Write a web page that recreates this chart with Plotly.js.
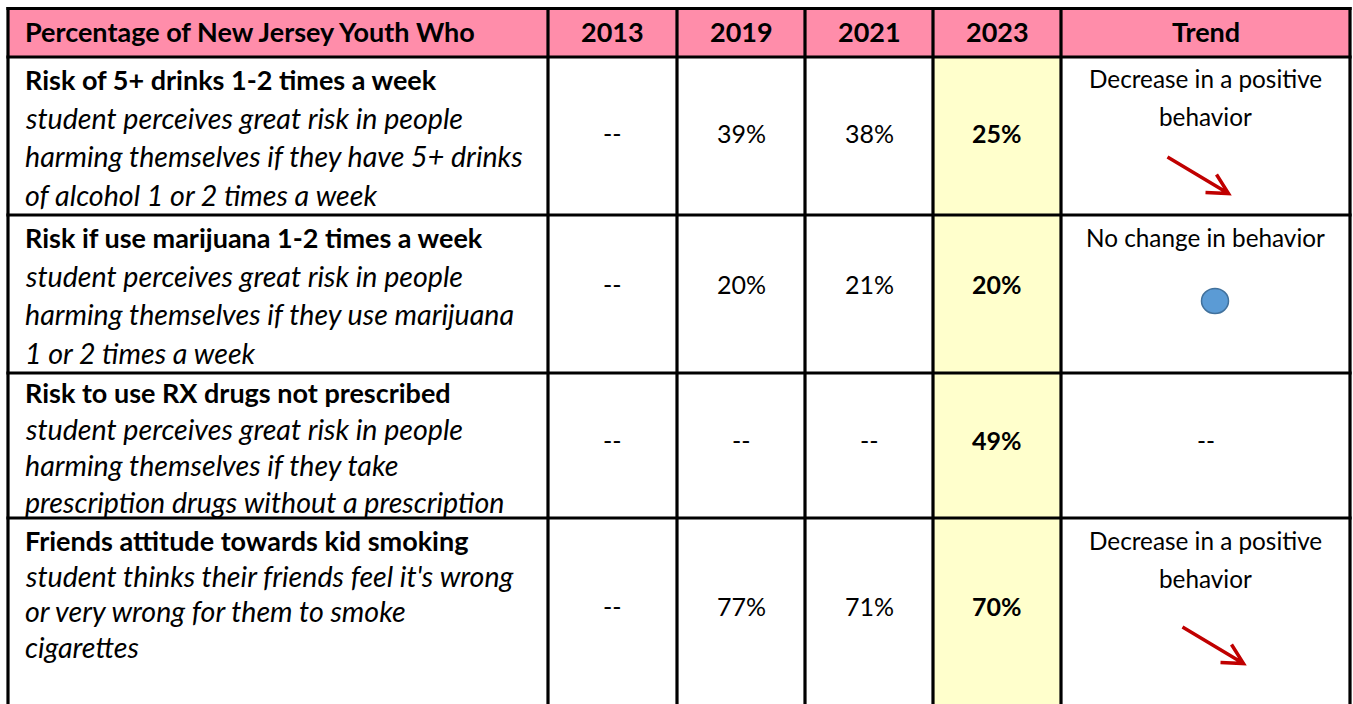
<!DOCTYPE html>
<html><head><meta charset="utf-8">
<script src="https://cdn.plot.ly/plotly-3.0.1.min.js"></script>
<style>html,body{margin:0;padding:0;background:#fff;overflow:hidden}</style>
</head><body><div id="chart" style="width:1353px;height:704px"></div>
<script>
// ---------- DATA ----------
const headers = ['Percentage of New Jersey Youth Who', '2013', '2019', '2021', '2023', 'Trend'];
const measures = [
  'Risk of 5+ drinks 1-2 times a week',
  'Risk if use marijuana 1-2 times a week',
  'Risk to use RX drugs not prescribed',
  'Friends attitude towards kid smoking'
];
const descriptions = [
  ['student perceives great risk in people', 'harming themselves if they have 5+ drinks', 'of alcohol 1 or 2 times a week'],
  ['student perceives great risk in people', 'harming themselves if they use marijuana', '1 or 2 times a week'],
  ['student perceives great risk in people', 'harming themselves if they take', 'prescription drugs without a prescription'],
  ["student thinks their friends feel it's wrong", 'or very wrong for them to smoke', 'cigarettes']
];
const v2013 = ['--', '--', '--', '--'];
const v2019 = ['39%', '20%', '--', '77%'];
const v2021 = ['38%', '21%', '--', '71%'];
const v2023 = ['25%', '20%', '49%', '70%'];
const trendText = [
  ['Decrease in a positive', 'behavior'],
  ['No change in behavior'],
  ['--'],
  ['Decrease in a positive', 'behavior']
];
const trendMark = ['down', 'flat', 'none', 'down'];

// ---------- LAYOUT GEOMETRY ----------
const W = 1353, H = 704;
const colEdges = [8, 548, 677, 805, 933, 1061, 1350];
const rowEdges = [8.5, 57, 215, 373, 518, 704];
const lineStart = [22, 22, 19, 22];      // first text line offset within row
const lineGap = [38.7, 38.7, 36.5, 35.7];  // text line spacing per row
const valueOffset = [76, 69, 67, 88];     // value text offset within row
const trendOffset = [21, 22, 67, 22];
const trendGap = 38;
const FONT = 'Lato, "Open Sans", sans-serif';
const FS_BOLD = 27, FS_ITAL = 28.6, FS_VAL = 25, FS_TREND = 24.3;
const pink = '#FF8DAA', yellow = '#FFFFCC', border = '#000000';
const arrowRed = '#C00000';

const shapes = [];
const annotations = [];

// fills
shapes.push({type: 'rect', xref: 'x', yref: 'y', x0: colEdges[0], x1: colEdges[6], y0: rowEdges[0], y1: rowEdges[1],
  fillcolor: pink, line: {width: 0}, layer: 'below'});
shapes.push({type: 'rect', xref: 'x', yref: 'y', x0: colEdges[4], x1: colEdges[5], y0: rowEdges[1], y1: H + 5,
  fillcolor: yellow, line: {width: 0}, layer: 'below'});

// grid lines
const LW = 3.2;
for (let i = 0; i < rowEdges.length - 1; i++) {
  shapes.push({type: 'line', xref: 'x', yref: 'y', x0: colEdges[0] - LW / 2, x1: colEdges[6] + LW / 2, y0: rowEdges[i], y1: rowEdges[i],
    line: {color: border, width: LW}});
}
colEdges.forEach(x => {
  shapes.push({type: 'line', xref: 'x', yref: 'y', x0: x, x1: x, y0: rowEdges[0] - LW / 2, y1: H + 5,
    line: {color: border, width: LW}});
});

function txt(x, y, text, size, opts) {
  annotations.push(Object.assign({
    xref: 'x', yref: 'y', x: x, y: y, text: text, showarrow: false,
    xanchor: 'center', yanchor: 'middle', borderpad: 0,
    font: {family: FONT, size: size, color: '#000'}
  }, opts || {}));
}

const LEFT = colEdges[0] + 16;
// header
const headerY = (rowEdges[0] + rowEdges[1]) / 2 - 1;
headers.forEach((h, i) => {
  if (i === 0) txt(LEFT, headerY, '<b>' + h + '</b>', FS_BOLD, {xanchor: 'left'});
  else txt((colEdges[i] + colEdges[i + 1]) / 2, headerY, '<b>' + h + '</b>', FS_BOLD);
});

// body rows
const valueCols = [v2013, v2019, v2021, v2023];
measures.forEach((m, r) => {
  const top = rowEdges[r + 1];
  txt(LEFT, top + lineStart[r], '<b>' + m + '</b>', FS_BOLD, {xanchor: 'left'});
  descriptions[r].forEach((d, k) => {
    txt(LEFT, top + lineStart[r] + lineGap[r] * (k + 1), '<i>' + d + '</i>', FS_ITAL, {xanchor: 'left'});
  });
  valueCols.forEach((col, c) => {
    const t = c === 3 ? '<b>' + col[r] + '</b>' : col[r];
    txt((colEdges[c + 1] + colEdges[c + 2]) / 2, top + valueOffset[r], t, FS_VAL);
  });
  const tx = (colEdges[5] + colEdges[6]) / 2;
  trendText[r].forEach((t, k) => {
    txt(tx, top + trendOffset[r] + trendGap * k, t, FS_TREND);
  });
  // trend marks
  if (trendMark[r] === 'down') {
    const x1 = tx - 38 + (r === 3 ? 15 : 0), y1 = top + (r === 3 ? 109 : 100);
    const x2 = x1 + 61, y2 = y1 + 36.5;
    const a1 = [x2 - 12, y2 - 19], a2 = [x2 - 23, y2 - 1];
    shapes.push({type: 'path', xref: 'x', yref: 'y',
      path: `M${x1},${y1} L${x2},${y2} M${a1[0]},${a1[1]} L${x2},${y2} L${a2[0]},${a2[1]}`,
      line: {color: arrowRed, width: 3.5}});
  } else if (trendMark[r] === 'flat') {
    const cx = tx + 9.5, cy = top + 86;
    shapes.push({type: 'circle', xref: 'x', yref: 'y', x0: cx - 13.5, x1: cx + 13.5, y0: cy - 12.5, y1: cy + 12.5,
      fillcolor: '#5B9BD5', line: {color: '#41719C', width: 1.5}});
  }
});

const layout = {
  width: W, height: H,
  margin: {l: 0, r: 0, t: 0, b: 0, pad: 0},
  paper_bgcolor: '#fff', plot_bgcolor: '#fff',
  xaxis: {range: [0, W], visible: false, fixedrange: true},
  yaxis: {range: [H, 0], visible: false, fixedrange: true},
  shapes: shapes, annotations: annotations, showlegend: false
};
Plotly.newPlot('chart', [], layout, {staticPlot: true, displayModeBar: false});
</script></body></html>
